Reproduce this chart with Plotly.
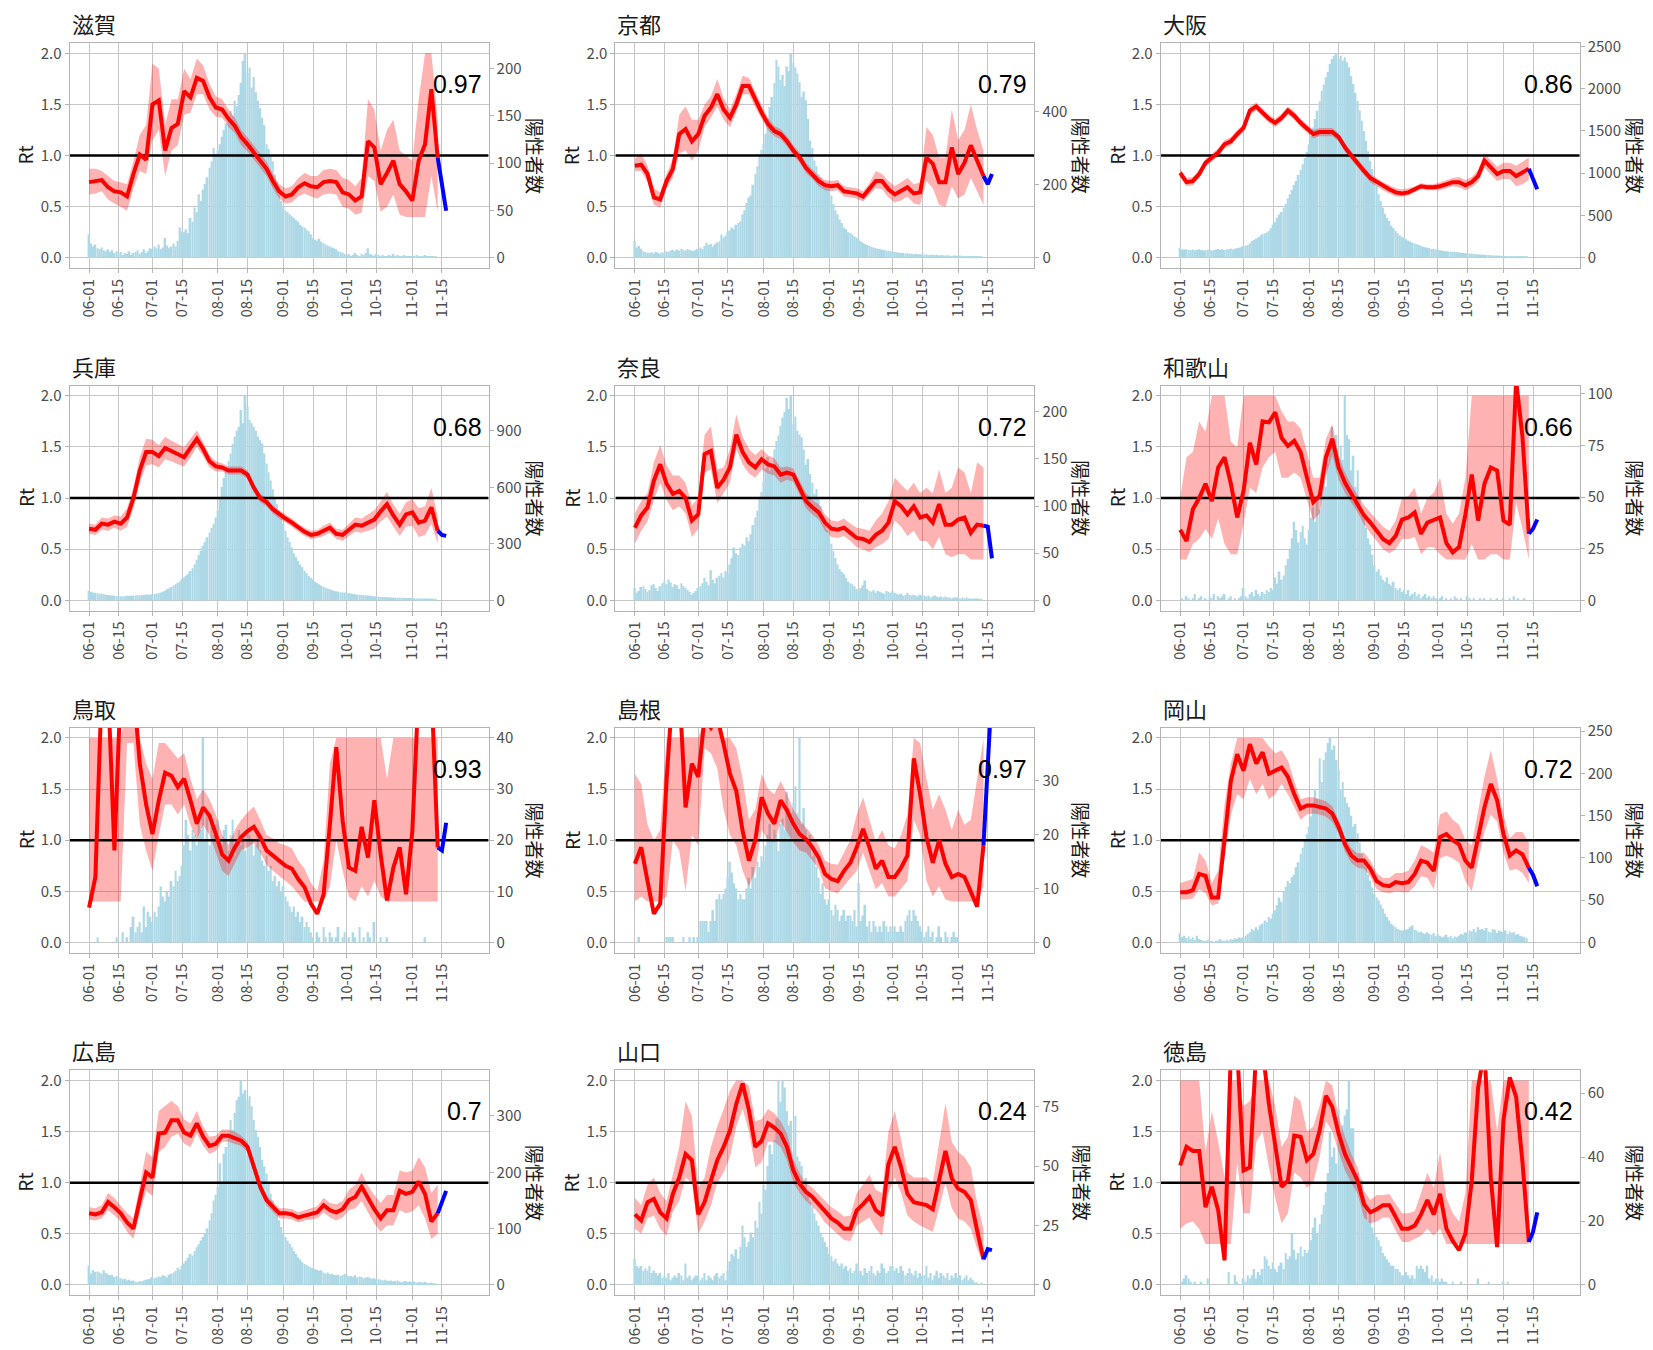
import pandas as pd
import plotly.graph_objects as go

# ---------------- data ----------------
START = "2021-06-01"
X_RANGE = ["2021-05-22 19:00", "2021-12-07 02:00"]
TICK_DATES = ["2021-06-01", "2021-06-15", "2021-07-01", "2021-07-15", "2021-08-01", "2021-08-15",
              "2021-09-01", "2021-09-15", "2021-10-01", "2021-10-15", "2021-11-01", "2021-11-15"]
TICK_TEXT = ["06-01", "06-15", "07-01", "07-15", "08-01", "08-15",
             "09-01", "09-15", "10-01", "10-15", "11-01", "11-15"]
RT_TICKS = [0, 0.5, 1.0, 1.5, 2.0]
RT_TICK_TEXT = ["0.0", "0.5", "1.0", "1.5", "2.0"]
BLUE_DATES = ["2021-11-13", "2021-11-15", "2021-11-17"]

NAMES = ["滋賀", "京都", "大阪", "兵庫", "奈良", "和歌山", "鳥取", "島根", "岡山", "広島", "山口", "徳島"]
LABELS = ["0.97", "0.79", "0.86", "0.68", "0.72", "0.66", "0.93", "0.97", "0.72", "0.7", "0.24", "0.42"]
COUNT_TICKS = [
    [0, 50, 100, 150, 200], [0, 200, 400], [0, 500, 1000, 1500, 2000, 2500],
    [0, 300, 600, 900], [0, 50, 100, 150, 200], [0, 25, 50, 75, 100],
    [0, 10, 20, 30, 40], [0, 10, 20, 30], [0, 50, 100, 150, 200, 250],
    [0, 100, 200, 300], [0, 25, 50, 75], [0, 20, 40, 60],
]

# daily positive counts, 06-01 .. 11-12
CASES_SHIGA = [25,15,12,14,10, 9,11,8,7,9, 6,8,5,7,4, 6,3,5,4,7, 3,5,6,8,4, 6,9,5,7,10,
               9,12,10,14,9, 11,21,13,10,12, 15,12,18,32,28, 27,30,26,42,38, 53,48,67,60,72, 78,85,95,102,116, 110,
               113,120,128,135,142, 148,155,150,166,160, 172,185,208,216,195, 201,180,191,175,166, 158,148,140,120,115, 108,102,88,80,67, 60,
               53,50,48,46,44, 42,40,38,35,33, 32,30,28,25,21, 19,18,20,17,15, 14,13,12,11,10, 9,7,6,5,4,
               3,4,2,3,5, 3,2,4,3,5, 10,4,3,2,4, 3,2,3,1,2, 3,2,4,2,3, 1,2,3,2,1, 2,
               2,1,3,2,1, 2,3,1,2,2, 1,1]
CASES_KYOTO = [46,28,32,25,18, 15,14,13,15,12, 16,14,12,15,13, 18,16,20,22,18, 23,20,25,22,19, 24,21,20,18,22,
               25,28,24,32,41, 35,38,30,36,42, 45,64,55,60,70, 75,83,78,90,95, 100,119,130,150,165, 170,200,229,250,280, 295,
               312,339,380,412,440, 477,541,523,486,500, 470,523,510,559,532, 520,504,480,440,455, 431,380,321,300,266, 250,229,220,211,200, 196,
               193,170,147,130,119, 105,95,83,78,70, 68,64,58,55,50, 45,41,38,35,33, 30,28,26,25,24, 22,21,20,19,18,
               18,16,15,14,13, 14,12,13,11,12, 10,11,9,10,9, 8,9,7,8,8, 7,8,6,7,7, 6,7,6,5,6, 6,
               5,6,5,5,4, 5,4,5,4,4, 3,4]
CASES_OSAKA = [119,99,95,100,92, 90,98,88,95,102, 92,85,90,96,100, 87,92,98,105,95, 100,93,98,104,110, 99,106,112,118,125,
               138,142,155,170,198, 210,225,240,255,277, 290,300,316,350,395, 420,474,510,540,593, 640,700,750,800,860, 909,980,1040,1106,1180, 1250,
               1343,1440,1541,1640,1738, 1850,1975,2050,2133,2200, 2291,2350,2390,2417,2350, 2390,2331,2370,2311,2252, 2150,2054,1950,1857,1740, 1620,1500,1383,1260,1146, 1050,
               948,850,751,670,593, 520,470,435,380,350, 316,290,265,250,237, 220,205,190,178,170, 160,150,138,130,125, 118,112,105,100,99,
               96,90,85,80,78, 75,72,71,68,66, 64,60,58,55,51, 50,48,45,42,40, 38,36,35,33,32, 30,28,27,26,25, 24,
               22,21,20,20,19, 18,18,17,17,16, 16,15]
CASES_HYOGO = [50,45,42,40,38, 35,36,32,30,28, 27,25,24,22,23, 21,20,22,24,23, 25,24,26,27,25, 28,29,30,31,30,
               32,34,36,38,41, 45,50,59,63,70, 78,85,92,100,112, 120,130,139,155,170, 192,215,240,263,290, 310,335,360,385,406, 440,
               477,540,602,650,691, 740,780,830,869,900, 922,1011,940,1086,1029, 958,940,922,900,869, 850,833,780,726,680, 637,590,548,510,477, 440,
               406,370,335,310,281, 250,230,210,190,175, 157,145,130,120,112, 100,92,85,77,72, 67,63,59,55,50, 48,45,43,42,41,
               40,38,36,34,32, 30,29,28,27,26, 25,24,22,21,20, 19,18,18,17,16, 16,15,15,14,14, 13,13,13,12,12, 12,
               11,11,10,10,10, 9,9,9,9,8, 8,8]
CASES_NARA = [13,8,10,14,15, 12,9,11,16,17, 13,10,15,18,21, 17,22,19,14,17, 16,12,18,15,13, 11,9,6,8,10,
              13,15,18,24,20, 16,32,22,18,24, 26,29,24,31,28, 38,45,56,50,48, 56,60,58,67,63, 70,80,88,95,109, 115,
              127,140,152,137,145, 160,169,175,185,194, 200,215,203,217,187, 195,180,176,173,160, 144,150,134,125,113, 118,109,100,91,80, 75,
              70,60,52,45,38, 33,30,28,24,20, 18,17,15,12,10, 13,16,21,12,10, 9,11,8,10,9, 8,7,10,9,8,
              10,8,7,6,7, 5,6,8,6,5, 6,5,4,6,5, 5,4,5,3,4, 5,4,3,4,3, 4,3,3,2,3, 3,
              3,2,3,2,3, 2,2,1,2,2, 1,1]
CASES_WAKAYAMA = [0,1,0,2,1, 0,1,3,0,1, 2,0,1,0,2, 1,3,0,2,1, 2,3,0,1,2, 0,1,0,1,2,
                  6,2,1,3,4, 2,5,3,2,4, 3,5,4,6,5, 11,8,14,10,12, 17,20,25,30,38, 34,28,33,36,30, 27,
                  34,40,45,38,50, 44,52,58,55,66, 76,84,70,80,62, 75,68,99,80,78, 63,70,55,63,50, 43,40,35,30,27, 22,
                  17,14,15,12,10, 9,11,8,7,9, 6,5,6,4,5, 3,5,2,3,4, 2,3,1,2,3, 1,2,1,2,1,
                  0,1,2,0,1, 0,1,0,2,1, 0,1,0,0,2, 1,0,1,0,0, 1,0,1,0,0, 1,0,0,1,0, 0,
                  1,0,0,1,0, 2,0,1,0,0, 1,0]
CASES_TOTTORI = [0,0,0,0,1, 0,0,0,0,0, 0,0,0,1,0, 0,2,0,1,0, 3,5,2,3,4, 2,7,3,6,5,
                 4,6,5,7,11, 9,8,10,9,12, 11,14,12,13,15, 19,24,21,18,22, 21,19,23,22,40, 20,25,19,24,21, 23,
                 24,20,19,22,23, 18,21,24,17,20, 22,19,21,18,22, 21,20,17,19,21, 18,16,15,17,14, 15,12,13,11,12, 10,
                 11,9,8,7,6, 7,5,6,4,5, 3,4,3,2,1, 0,2,1,0,3, 1,0,2,1,0, 1,3,0,1,2,
                 0,1,0,2,1, 0,3,0,1,0, 2,1,0,4,0, 0,1,0,0,1, 0,0,0,0,0, 0,0,0,0,0, 0,
                 0,0,0,0,0, 0,1,0,0,0, 0,0]
CASES_SHIMANE = [0,0,1,0,0, 0,0,0,0,0, 0,0,0,0,0, 1,1,1,1,0, 0,0,0,1,0, 0,1,0,1,0,
                 1,4,4,4,4, 2,4,6,4,8, 9,8,9,10,12, 15,13,11,10,8, 9,8,8,10,12, 10,14,12,15,14, 16,
                 15,18,20,22,19, 21,20,17,22,23, 21,28,25,24,26, 29,24,38,22,25, 21,19,20,16,17, 14,12,9,11,8, 7,
                 8,6,5,7,6, 4,5,6,4,5, 5,4,6,3,11, 4,5,7,3,4, 2,4,3,2,3, 2,4,3,2,3,
                 2,3,2,2,3, 2,4,5,6,4, 6,5,4,3,2, 1,2,3,1,2, 0,1,3,1,0, 2,1,0,1,2, 1,
                 1,0,0,0,0, 0,0,0,0,0, 0,0]
CASES_OKAYAMA = [11,6,8,5,7, 4,6,3,8,4, 3,2,1,3,2, 1,0,2,1,4, 2,1,3,2,4, 3,5,4,6,5,
                 6,8,10,12,16, 14,18,15,20,22, 26,24,30,28,34, 38,44,53,48,60, 66,73,70,77,80, 89,95,105,112,121, 128,
                 137,149,160,180,170, 218,190,216,225,236, 242,228,233,216,204, 180,190,172,165,160, 150,137,140,129,118, 105,98,89,80,73, 65,
                 57,53,50,45,40, 34,30,26,22,20, 18,16,15,14,14, 15,16,18,20,15, 14,12,13,11,10, 12,10,9,11,8,
                 10,8,6,7,9, 6,8,5,7,6, 8,10,9,12,11, 14,13,16,12,18, 15,16,14,17,13, 12,16,15,11,14, 13,
                 12,14,10,13,11, 12,9,10,8,7, 6,5]
CASES_HIROSHIMA = [34,20,26,23,24, 22,20,26,21,19, 17,18,14,16,13, 12,10,11,8,9, 7,8,6,5,7, 6,8,9,10,11,
                   14,12,13,15,14, 17,16,13,18,20, 22,25,31,28,34, 38,43,48,55,52, 60,67,72,79,85, 91,100,115,127,150, 160,
                   174,216,180,233,245, 269,293,275,305,328, 334,363,340,346,328, 335,317,293,275,263, 245,222,210,198,180, 162,150,138,125,115, 103,
                   91,85,79,73,67, 60,55,49,45,40, 37,35,33,31,30, 28,27,25,26,22, 20,22,19,20,18, 17,18,16,17,20,
                   17,15,16,14,17, 13,15,14,12,13, 14,12,11,12,10, 10,9,8,9,8, 7,8,6,7,8, 6,5,6,7,5, 6,
                   5,6,4,5,5, 4,5,4,3,4, 3,3]
CASES_YAMAGUCHI = [11,8,7,8,6, 7,6,8,5,6, 5,4,5,3,4, 3,5,2,3,4, 3,5,4,2,9, 3,4,2,3,4,
                   4,2,3,5,2, 4,3,2,4,5, 3,4,5,2,6, 10,13,12,15,11, 16,25,20,16,18, 22,20,27,24,35, 30,
                   42,40,50,59,55, 61,70,86,77,86, 83,73,67,69,56, 71,54,52,50,42, 45,38,35,33,30, 27,25,22,20,18, 16,
                   13,12,10,11,9, 8,9,7,8,6, 7,5,6,9,5, 6,4,7,5,6, 8,5,4,6,5, 9,7,5,6,8,
                   8,6,7,5,8, 6,4,5,7,5, 4,6,3,5,4, 4,8,3,5,2, 4,6,3,5,4, 3,5,2,4,3, 5,
                   3,4,2,3,4, 2,3,2,1,1, 0,1]
CASES_TOKUSHIMA = [0,1,2,3,2, 1,0,1,0,0, 1,0,0,2,0, 0,0,0,0,0, 0,0,0,4,0, 0,3,1,0,0,
                   2,1,3,2,3, 5,2,4,3,5, 9,8,6,5,7, 5,4,6,7,5, 10,8,9,16,11, 8,10,12,9,11, 10,
                   11,14,18,21,16, 19,22,25,29,35, 48,40,43,38,55, 45,50,53,55,64, 49,49,35,35,30, 33,28,25,20,22, 18,
                   16,15,14,12,10, 9,8,7,6,6, 5,5,4,3,3, 4,3,2,3,2, 6,5,6,5,4, 6,2,3,1,2,
                   2,1,2,1,1, 0,0,1,0,0, 0,1,0,0,0, 0,0,0,0,2, 0,0,0,0,1, 0,0,0,0,0, 0,
                   1,0,1,0,0, 0,0,0,0,0, 0,0]

# Rt (x100), every 3 days from 06-01 to 11-13, with credible band
RT_SHIGA = [74,75,76,69,65, 64,60,82,101,96, 150,154,105,127,131, 163,157,176,173,157, 147,145,136,129,118, 111,103,95,87,75, 65,60,62,69,73, 70,69,74,75,74, 64,62,56,60,114, 108,72,83,95,72, 65,56,95,111,165, 98]
LO_SHIGA = [62,63,65,57,53, 50,46,68,85,82, 115,125,80,105,110, 140,142,160,160,145, 138,137,128,122,110, 104,96,88,80,68, 58,53,54,60,63, 60,58,62,63,62, 50,48,42,44,80, 75,45,50,62,42, 40,40,40,40,80, 45]
HI_SHIGA = [87,87,85,80,75, 74,72,95,120,130, 190,185,130,155,155, 185,175,195,188,170, 158,155,145,137,125, 118,110,102,94,82, 72,68,70,78,83, 80,80,86,87,86, 78,76,70,78,155, 145,105,125,135,105, 100,95,155,200,200, 135]

RT_KYOTO = [90,91,82,59,57, 75,87,121,126,114, 121,139,147,160,145, 137,150,168,168,154, 142,131,124,121,114, 105,98,88,82,75, 71,70,71,65,64, 63,60,67,75,75, 67,62,65,69,63, 64,98,92,74,74, 108,82,93,110,95, 80]
LO_KYOTO = [85,85,74,52,49, 68,78,102,105,95, 105,128,137,148,135, 128,142,160,160,147, 136,125,119,116,109, 100,93,83,77,70, 66,65,66,60,59, 58,55,61,68,67, 59,54,56,60,53, 52,75,68,52,50, 70,58,62,78,65, 52]
HI_KYOTO = [97,102,90,68,64, 82,97,140,148,135, 135,150,158,175,156, 145,160,178,176,162, 149,137,129,126,119, 110,103,93,87,80, 76,75,76,70,69, 68,65,73,85,82, 75,70,74,78,72, 74,128,120,98,98, 145,115,125,150,125, 105]

RT_OSAKA = [83,74,75,82,93, 98,103,111,114,121, 127,144,148,142,136, 132,137,144,139,132, 126,121,123,123,123, 118,108,100,92,85, 78,74,70,67,64, 63,64,67,70,69, 69,70,72,74,74, 71,74,80,95,88, 82,85,85,80,83, 87]
LO_OSAKA = [79,70,71,78,89, 94,99,107,110,117, 123,140,144,138,132, 128,133,140,135,128, 122,117,119,119,119, 114,104,96,88,81, 74,70,66,63,60, 60,61,64,67,66, 66,66,68,70,69, 66,69,74,88,81, 75,77,77,70,72, 76]
HI_OSAKA = [87,78,79,86,97, 102,107,115,118,125, 131,148,152,146,140, 136,141,148,143,136, 130,125,127,127,127, 122,112,104,96,89, 82,78,74,71,68, 67,68,70,73,72, 72,74,76,78,79, 76,79,86,102,95, 89,93,93,90,94, 98]

RT_HYOGO = [70,69,75,74,77, 75,81,100,127,145, 145,141,149,146,143, 140,149,158,148,136, 131,130,127,127,127, 123,110,100,96,89, 84,80,76,71,67, 64,65,68,71,65, 64,69,74,73,76, 79,87,94,83,74, 84,86,76,78,91, 68]
LO_HYOGO = [65,64,69,68,71, 68,72,90,115,132, 133,130,138,136,133, 131,140,150,141,130, 126,126,123,123,123, 119,106,96,92,85, 80,76,72,67,63, 60,61,63,66,60, 58,63,67,66,68, 70,77,82,72,63, 72,73,62,64,75, 55]
HI_HYOGO = [75,74,81,80,83, 82,90,110,140,158, 157,152,160,156,153, 150,158,166,155,142, 136,134,131,131,131, 127,114,104,100,93, 88,84,80,75,71, 68,69,73,76,70, 69,75,81,80,84, 88,97,106,94,85, 96,99,90,92,110, 82]

RT_NARA = [71,83,91,117,133, 114,104,107,100,78, 84,143,146,110,118, 130,162,145,135,130, 138,133,131,123,125, 123,110,97,91,86, 76,70,69,71,66, 61,60,57,64,68, 76,97,92,84,92, 81,83,76,94,74, 74,79,81,66,74, 73]
LO_NARA = [55,68,77,98,115, 98,88,92,85,62, 70,125,128,95,105, 115,148,133,124,120, 128,124,122,115,118, 116,103,90,84,79, 68,62,61,63,58, 52,50,47,52,55, 60,78,72,63,68, 58,58,50,62,45, 42,45,45,40,40, 40]
HI_NARA = [85,97,105,135,152, 132,122,122,115,93, 100,162,170,128,130, 148,182,160,148,142, 148,142,139,130,131, 129,117,105,98,94, 84,78,77,80,75, 71,70,68,78,85, 97,120,113,107,115, 105,110,105,128,105, 110,130,125,105,135, 130]

RT_WAKAYAMA = [69,58,89,100,114, 97,130,140,114,81, 107,154,133,175,174, 184,159,151,156,145, 120,96,102,140,158, 130,115,104,94,83, 76,68,60,56,63, 79,81,86,65,76, 78,81,56,47,52, 84,123,78,114,130, 127,78,74,215,160, 65]
LO_WAKAYAMA = [40,40,55,60,70, 60,80,55,45,45, 75,110,105,130,140, 145,120,120,125,120, 98,78,85,122,142, 118,105,96,86,74, 66,58,50,46,50, 60,60,62,45,52, 52,45,40,40,40, 40,55,40,40,45, 45,40,40,95,70, 40]
HI_WAKAYAMA = [100,140,145,175,165, 200,200,200,155,150, 200,200,200,200,200, 200,185,175,175,168, 145,120,120,158,172, 142,125,113,103,93, 86,79,72,68,78, 100,102,110,85,100, 105,120,85,75,85, 120,200,200,200,200, 200,200,200,200,200, 200]

RT_TOTTORI = [34,64,250,250,90, 250,250,250,175,135, 106,139,166,163,152, 160,139,116,132,124, 106,86,80,93,103, 109,113,103,90,85, 80,75,72,62,54, 38,28,47,116,191, 119,73,70,113,83, 139,86,41,73,93, 47,109,250,250,250, 93]
LO_TOTTORI = [40,40,40,40,40, 40,195,195,115,90, 70,105,135,135,125, 135,115,100,115,105, 88,70,65,78,90, 93,97,88,76,70, 65,60,55,47,40, 40,40,40,55,100, 70,45,40,55,45, 60,45,40,40,40, 40,40,40,40,40, 40]
HI_TOTTORI = [200,200,200,200,200, 200,230,230,200,175, 160,195,195,188,180, 185,160,140,150,140, 125,105,95,110,120, 127,133,120,105,102, 97,95,92,80,72, 58,50,80,175,200, 200,200,200,200,200, 200,200,160,200,200, 200,200,200,200,200, 200]

RT_SHIMANE = [77,93,60,28,38, 158,250,250,132,175, 162,220,210,220,194, 165,148,109,80,100, 142,126,116,139,129, 116,106,101,93,83, 67,62,60,70,78, 93,111,93,72,80, 64,64,73,85,180, 145,103,78,100,77, 64,67,64,50,35, 95]
LO_SHIMANE = [40,45,40,40,40, 45,100,90,50,105, 95,190,185,170,130, 105,95,70,55,70, 110,100,98,118,108, 98,90,88,80,72, 53,50,48,55,62, 70,88,70,52,58, 45,45,52,60,120, 105,60,45,55,42, 40,40,40,40,40, 55]
HI_SHIMANE = [165,155,115,100,110, 200,200,200,200,200, 200,220,220,220,200, 200,190,160,120,130, 165,150,145,158,145, 130,120,112,105,95, 80,77,76,88,100, 125,142,120,98,110, 95,92,105,125,200, 195,160,130,145,130, 110,130,115,120,160, 200]

RT_OKAYAMA = [49,49,51,67,65, 44,44,103,158,184, 168,194,175,186,165, 168,171,162,145,131, 134,134,132,131,126, 113,96,85,80,80, 72,60,56,55,59, 58,59,67,80,78, 70,103,106,100,96, 80,73,103,132,155, 139,106,85,90,86, 73]
LO_OKAYAMA = [42,42,43,52,48, 36,38,80,125,145, 140,160,145,155,140, 145,155,145,133,120, 125,126,125,123,118, 106,89,78,73,72, 64,52,49,48,50, 49,49,55,65,63, 52,82,85,82,78, 60,50,80,108,125, 118,88,70,72,68, 58]
HI_OKAYAMA = [58,60,62,88,80, 58,70,135,175,200, 200,200,200,200,192, 185,188,178,158,140, 142,142,140,138,133, 120,103,92,87,88, 80,68,63,63,68, 68,70,80,95,92, 88,125,128,120,115, 100,95,130,162,188, 160,125,102,108,108, 98]

RT_HIROSHIMA = [70,69,71,81,76, 70,61,55,83,110, 105,148,149,161,161, 149,146,158,145,136, 138,146,146,144,141, 135,115,96,83,76, 70,70,69,66,68, 69,71,78,73,71, 74,83,86,96,84, 74,65,73,73,92, 89,91,101,89,62, 70]
LO_HIROSHIMA = [64,63,65,73,68, 62,52,45,70,92, 87,130,135,145,148, 138,135,148,136,128, 131,140,140,138,136, 130,110,91,78,71, 65,65,64,61,63, 64,65,71,66,63, 66,73,75,82,71, 60,52,58,58,73, 70,72,78,65,45, 50]
HI_HIROSHIMA = [76,75,78,90,85, 78,70,65,98,130, 125,170,175,180,175, 162,158,170,155,145, 146,152,152,150,146, 140,120,101,88,81, 75,75,74,71,73, 75,77,85,80,79, 82,93,98,110,97, 88,80,88,88,112, 110,112,125,115,90, 98]

RT_YAMAGUCHI = [69,63,81,84,71, 65,89,105,128,122, 69,81,102,122,135, 151,177,197,171,135, 141,158,154,148,135, 112,99,91,86,79, 71,65,61,55,55, 73,79,86,73,68, 118,135,115,89,81, 79,78,74,104,131, 104,94,91,83,53, 25]
LO_YAMAGUCHI = [55,50,65,68,55, 48,72,82,105,100, 50,62,78,100,110, 125,155,172,150,115, 120,140,140,135,122, 100,90,82,77,70, 61,55,50,44,43, 58,62,66,55,48, 90,105,90,68,62, 58,55,52,75,100, 75,65,62,55,35, 22]
HI_YAMAGUCHI = [85,78,98,105,90, 82,108,135,180,165, 95,105,135,155,172, 190,200,200,195,160, 162,172,168,160,148, 123,109,100,95,89, 82,76,72,67,68, 90,98,108,93,90, 150,170,142,110,105, 105,105,100,140,178, 140,130,125,115,80, 55]

RT_TOKUSHIMA = [117,135,131,131,76, 96,73,24,230,230, 112,115,230,230,177, 135,96,102,146,145, 122,128,151,185,174, 148,128,115,102,79, 71,74,78,78,66, 55,55,58,69,83, 69,89,55,43,34, 50,102,193,230,105, 37,161,203,184,120, 42]
LO_TOKUSHIMA = [55,60,62,55,40, 40,40,40,40,120, 70,70,140,150,115, 85,60,70,110,105, 95,100,125,160,150, 130,112,100,89,66, 60,62,66,66,53, 42,42,45,48,55, 48,55,40,40,40, 40,40,40,40,40, 40,40,40,40,40, 40]
HI_TOKUSHIMA = [200,200,200,200,130, 170,140,105,200,200, 175,180,200,200,200, 175,135,145,185,180, 150,155,175,200,195, 165,145,128,115,92, 83,88,88,89,80, 70,70,72,90,110, 95,130,85,70,62, 90,200,200,200,200, 150,200,200,200,200, 200]

# projected Rt (x100), 11-13 .. 11-17
BLUE_SHIGA = [98, 72, 46]
BLUE_KYOTO = [80, 72, 82]
BLUE_OSAKA = [87, 78, 67]
BLUE_HYOGO = [68, 64, 63]
BLUE_NARA = [73, 72, 41]
BLUE_WAKAYAMA = [65, 70, 79]
BLUE_TOTTORI = [93, 90, 117]
BLUE_SHIMANE = [95, 170, 250]
BLUE_OKAYAMA = [73, 66, 55]
BLUE_HIROSHIMA = [70, 80, 92]
BLUE_YAMAGUCHI = [25, 35, 34]
BLUE_TOKUSHIMA = [42, 52, 71]

CASES = [CASES_SHIGA, CASES_KYOTO, CASES_OSAKA, CASES_HYOGO, CASES_NARA, CASES_WAKAYAMA,
         CASES_TOTTORI, CASES_SHIMANE, CASES_OKAYAMA, CASES_HIROSHIMA, CASES_YAMAGUCHI, CASES_TOKUSHIMA]
RTS = [RT_SHIGA, RT_KYOTO, RT_OSAKA, RT_HYOGO, RT_NARA, RT_WAKAYAMA,
       RT_TOTTORI, RT_SHIMANE, RT_OKAYAMA, RT_HIROSHIMA, RT_YAMAGUCHI, RT_TOKUSHIMA]
LOS = [LO_SHIGA, LO_KYOTO, LO_OSAKA, LO_HYOGO, LO_NARA, LO_WAKAYAMA,
       LO_TOTTORI, LO_SHIMANE, LO_OKAYAMA, LO_HIROSHIMA, LO_YAMAGUCHI, LO_TOKUSHIMA]
HIS = [HI_SHIGA, HI_KYOTO, HI_OSAKA, HI_HYOGO, HI_NARA, HI_WAKAYAMA,
       HI_TOTTORI, HI_SHIMANE, HI_OKAYAMA, HI_HIROSHIMA, HI_YAMAGUCHI, HI_TOKUSHIMA]
BLUES = [BLUE_SHIGA, BLUE_KYOTO, BLUE_OSAKA, BLUE_HYOGO, BLUE_NARA, BLUE_WAKAYAMA,
         BLUE_TOTTORI, BLUE_SHIMANE, BLUE_OKAYAMA, BLUE_HIROSHIMA, BLUE_YAMAGUCHI, BLUE_TOKUSHIMA]

# ---------------- layout geometry (pixels inside the figure) ----------------
W, H = 1653, 1350
COL_LEFT = [61.6, 607.4, 1152.7]
ROW_TOP = [26.3, 371.1, 715.5, 1060.3]
BOX_W, BOX_H = 419.0, 226.4
TITLE_ABOVE = 20.0
RIGHT_TITLE_GAP = [47.0, 47.5, 56.0]
RT_TITLE_GAP = 44.6

FONT = "Noto Sans CJK JP"
TICK_COLOR = "#4d4d4d"
GRID = "#c6c6c6"
BORDER = "#b3b3b3"

fig = go.Figure()


def axname(prefix, k):
    return prefix if k == 1 else f"{prefix}{k}"


annotations = []
for i, name in enumerate(NAMES):
    r, c = divmod(i, 3)
    left, top = COL_LEFT[c], ROW_TOP[r]
    xa = axname("x", i + 1)
    ym = axname("y", 2 * i + 1)
    yr = axname("y", 2 * i + 2)

    cases = CASES[i]
    case_dates = pd.date_range(START, periods=len(cases), freq="D")
    rt_dates = pd.date_range(START, periods=len(RTS[i]), freq="3D")
    M = max(cases)

    fig.add_trace(go.Bar(x=case_dates, y=cases, xaxis=xa, yaxis=ym,
                         marker=dict(color="#ADD8E6", line=dict(width=0)),
                         width=0.85 * 86400000, showlegend=False, hoverinfo="skip"))
    fig.add_trace(go.Scatter(x=rt_dates, y=[v / 100 for v in HIS[i]], xaxis=xa, yaxis=yr,
                             mode="lines", line=dict(width=0, color="rgba(0,0,0,0)"),
                             showlegend=False, hoverinfo="skip"))
    fig.add_trace(go.Scatter(x=rt_dates, y=[v / 100 for v in LOS[i]], xaxis=xa, yaxis=yr,
                             mode="lines", line=dict(width=0, color="rgba(0,0,0,0)"),
                             fill="tonexty", fillcolor="rgba(255,0,0,0.3)",
                             showlegend=False, hoverinfo="skip"))
    fig.add_trace(go.Scatter(x=X_RANGE, y=[1, 1], xaxis=xa, yaxis=yr, mode="lines",
                             line=dict(color="black", width=2.5), showlegend=False, hoverinfo="skip"))
    fig.add_trace(go.Scatter(x=rt_dates, y=[v / 100 for v in RTS[i]], xaxis=xa, yaxis=yr,
                             mode="lines", line=dict(color="#FF0000", width=4),
                             showlegend=False, hoverinfo="skip"))
    fig.add_trace(go.Scatter(x=BLUE_DATES, y=[v / 100 for v in BLUES[i]], xaxis=xa, yaxis=yr,
                             mode="lines", line=dict(color="#0000FF", width=4),
                             showlegend=False, hoverinfo="skip"))

    xd = [left / W, (left + BOX_W) / W]
    yd = [1 - (top + BOX_H) / H, 1 - top / H]
    tickfont = dict(family=FONT, size=15, color=TICK_COLOR)

    fig.layout["xaxis" + xa[1:]] = dict(
        domain=xd, anchor=ym, type="date", range=X_RANGE,
        tickvals=TICK_DATES, ticktext=TICK_TEXT, tickangle=-90,
        showgrid=True, gridcolor=GRID, gridwidth=1,
        showline=True, mirror=True, linecolor=BORDER, linewidth=1,
        ticks="outside", ticklen=4, tickcolor=BORDER, tickfont=tickfont,
        zeroline=False, fixedrange=True)
    fig.layout["yaxis" + ym[1:]] = dict(
        domain=yd, anchor=xa, side="right", range=[-0.05 * M, 1.05 * M],
        tickvals=COUNT_TICKS[i], showgrid=False,
        showline=True, mirror=True, linecolor=BORDER, linewidth=1,
        ticks="outside", ticklen=4, tickcolor=BORDER, tickfont=tickfont,
        zeroline=False, fixedrange=True)
    fig.layout["yaxis" + yr[1:]] = dict(
        overlaying=ym, anchor=xa, side="left", range=[-0.1, 2.1],
        tickvals=RT_TICKS, ticktext=RT_TICK_TEXT,
        showgrid=True, gridcolor=GRID, gridwidth=1, showline=False,
        ticks="outside", ticklen=4, tickcolor=BORDER, tickfont=tickfont,
        zeroline=False, fixedrange=True)

    annotations.append(dict(text=name, xref="paper", yref="paper",
                            x=left / W, y=1 - (top - TITLE_ABOVE) / H, xanchor="left", yanchor="middle",
                            showarrow=False, font=dict(family=FONT, size=22, color="#1a1a1a")))
    annotations.append(dict(text=LABELS[i], xref=xa + " domain", yref=yr,
                            x=1, y=1.7, xanchor="right", yanchor="middle", xshift=-5,
                            showarrow=False, font=dict(family="Liberation Sans", size=25, color="black")))
    annotations.append(dict(text="Rt", xref="paper", yref="paper",
                            x=(left - RT_TITLE_GAP) / W, y=1 - (top + BOX_H / 2) / H,
                            xanchor="center", yanchor="middle", textangle=-90,
                            showarrow=False, font=dict(family=FONT, size=19, color="#1a1a1a")))
    annotations.append(dict(text="陽性者数", xref="paper", yref="paper",
                            x=(left + BOX_W + RIGHT_TITLE_GAP[c]) / W, y=1 - (top + BOX_H / 2) / H,
                            xanchor="center", yanchor="middle", textangle=90,
                            showarrow=False, font=dict(family=FONT, size=19, color="#1a1a1a")))

fig.update_layout(
    width=W, height=H, autosize=False,
    margin=dict(l=0, r=0, t=0, b=0),
    paper_bgcolor="white", plot_bgcolor="white",
    showlegend=False, bargap=0.1,
    annotations=annotations,
    font=dict(family=FONT),
)

fig.write_html("out.html")
